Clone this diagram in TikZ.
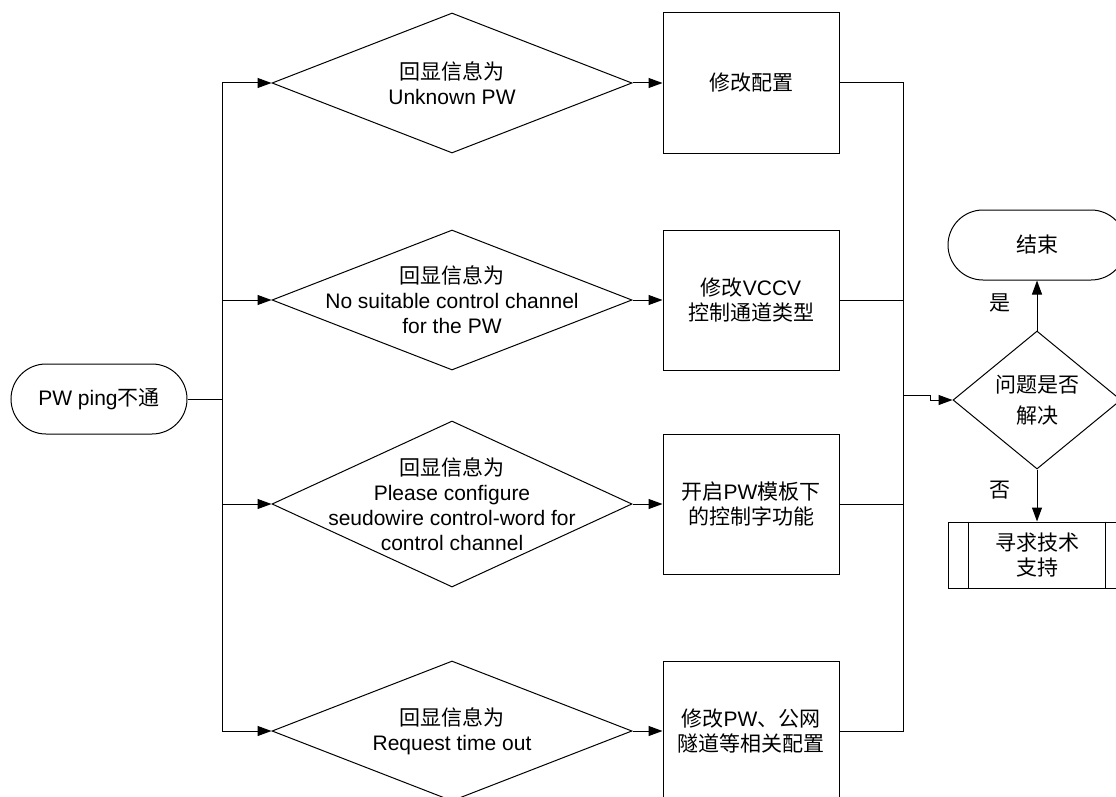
\documentclass[tikz,border=0pt]{standalone}
\usepackage{fontspec}
\setmainfont{Liberation Sans}
\newfontfamily\cjk{Noto Sans CJK SC}
\newcommand{\zh}[1]{{\cjk #1}}
\usetikzlibrary{shapes.geometric,arrows.meta}

\begin{document}
\begin{tikzpicture}[x=1pt,y=-1pt,line width=1pt,
    every node/.style={font=\fontsize{21}{25}\selectfont},
    term/.style={draw,rectangle,rounded corners=35pt,minimum width=176pt,minimum height=70pt},
    dec/.style={draw,diamond,minimum width=360pt,minimum height=140pt,inner sep=0pt},
    proc/.style={draw,rectangle,minimum width=176pt,minimum height=140pt,align=center},
    subp/.style={draw,rectangle,minimum width=178pt,minimum height=66pt,align=center},
    flow/.style={-{Triangle[length=14pt,width=10pt]}}]
      \useasboundingbox (0,0) rectangle (1116,797);
      \clip (0,0) rectangle (1116,797);
      % start and branch point
      \node[term] (start) at (99,399) {PW ping\zh{不通}};
      \coordinate (split) at (222,399);
      % the four checks
      \node[dec,label={[align=center]center:{\zh{回显信息为}\\Unknown PW}}] (d1) at (452,83) {};
      \node[dec,label={[align=center]center:{\zh{回显信息为}\\No suitable control channel\\for the PW}}] (d2) at (452,300) {};
      \node[dec,minimum height=166pt,label={[align=center]center:{\zh{回显信息为}\\Please configure\\seudowire control-word for\\control channel}}] (d3) at (452,504) {};
      \node[dec,label={[align=center]center:{\zh{回显信息为}\\Request time out}}] (d4) at (452,731) {};
      % actions
      \node[proc] (b1) at (751,83) {\zh{修改配置}};
      \node[proc] (b2) at (751,300) {\zh{修改}VCCV\\\zh{控制通道类型}};
      \node[proc] (b3) at (751,504) {\zh{开启}PW\zh{模板下}\\\zh{的控制字功能}};
      \node[proc] (b4) at (751,731) {\zh{修改}PW\zh{、公网}\\\zh{隧道等相关配置}};
      \coordinate (join) at (903,395);
      % result
      \node[dec,minimum width=168pt,minimum height=138pt,label={[align=center]center:{\zh{问题是否}\\[6pt]\zh{解决}}}] (chk) at (1037,400) {};
      \node[term,minimum width=178pt] (end) at (1037,245) {\zh{结束}};
      \node[subp] (help) at (1037,555) {\zh{寻求技术}\\\zh{支持}};
      \draw ([xshift=21pt]help.north west) -- ([xshift=21pt]help.south west);
      \draw ([xshift=-21pt]help.north east) -- ([xshift=-21pt]help.south east);
      \node (yes) at (1000,303) {\zh{是}};
      \node (no) at (1000,490) {\zh{否}};
      % connectors
      \draw (start) -- (split);
      \foreach \i in {1,...,4}{
        \draw[flow] (split) |- (d\i.west);
        \draw[flow] (d\i.east) -- (b\i.west);
        \draw (b\i.east) -| (join);
      }
      \draw[flow] (join) -- ++(27,0) |- (chk.west);
      \draw[flow] (chk.north) -- (end.south);
      \draw[flow] (chk.south) -- (help.north);
\end{tikzpicture}
\end{document}
